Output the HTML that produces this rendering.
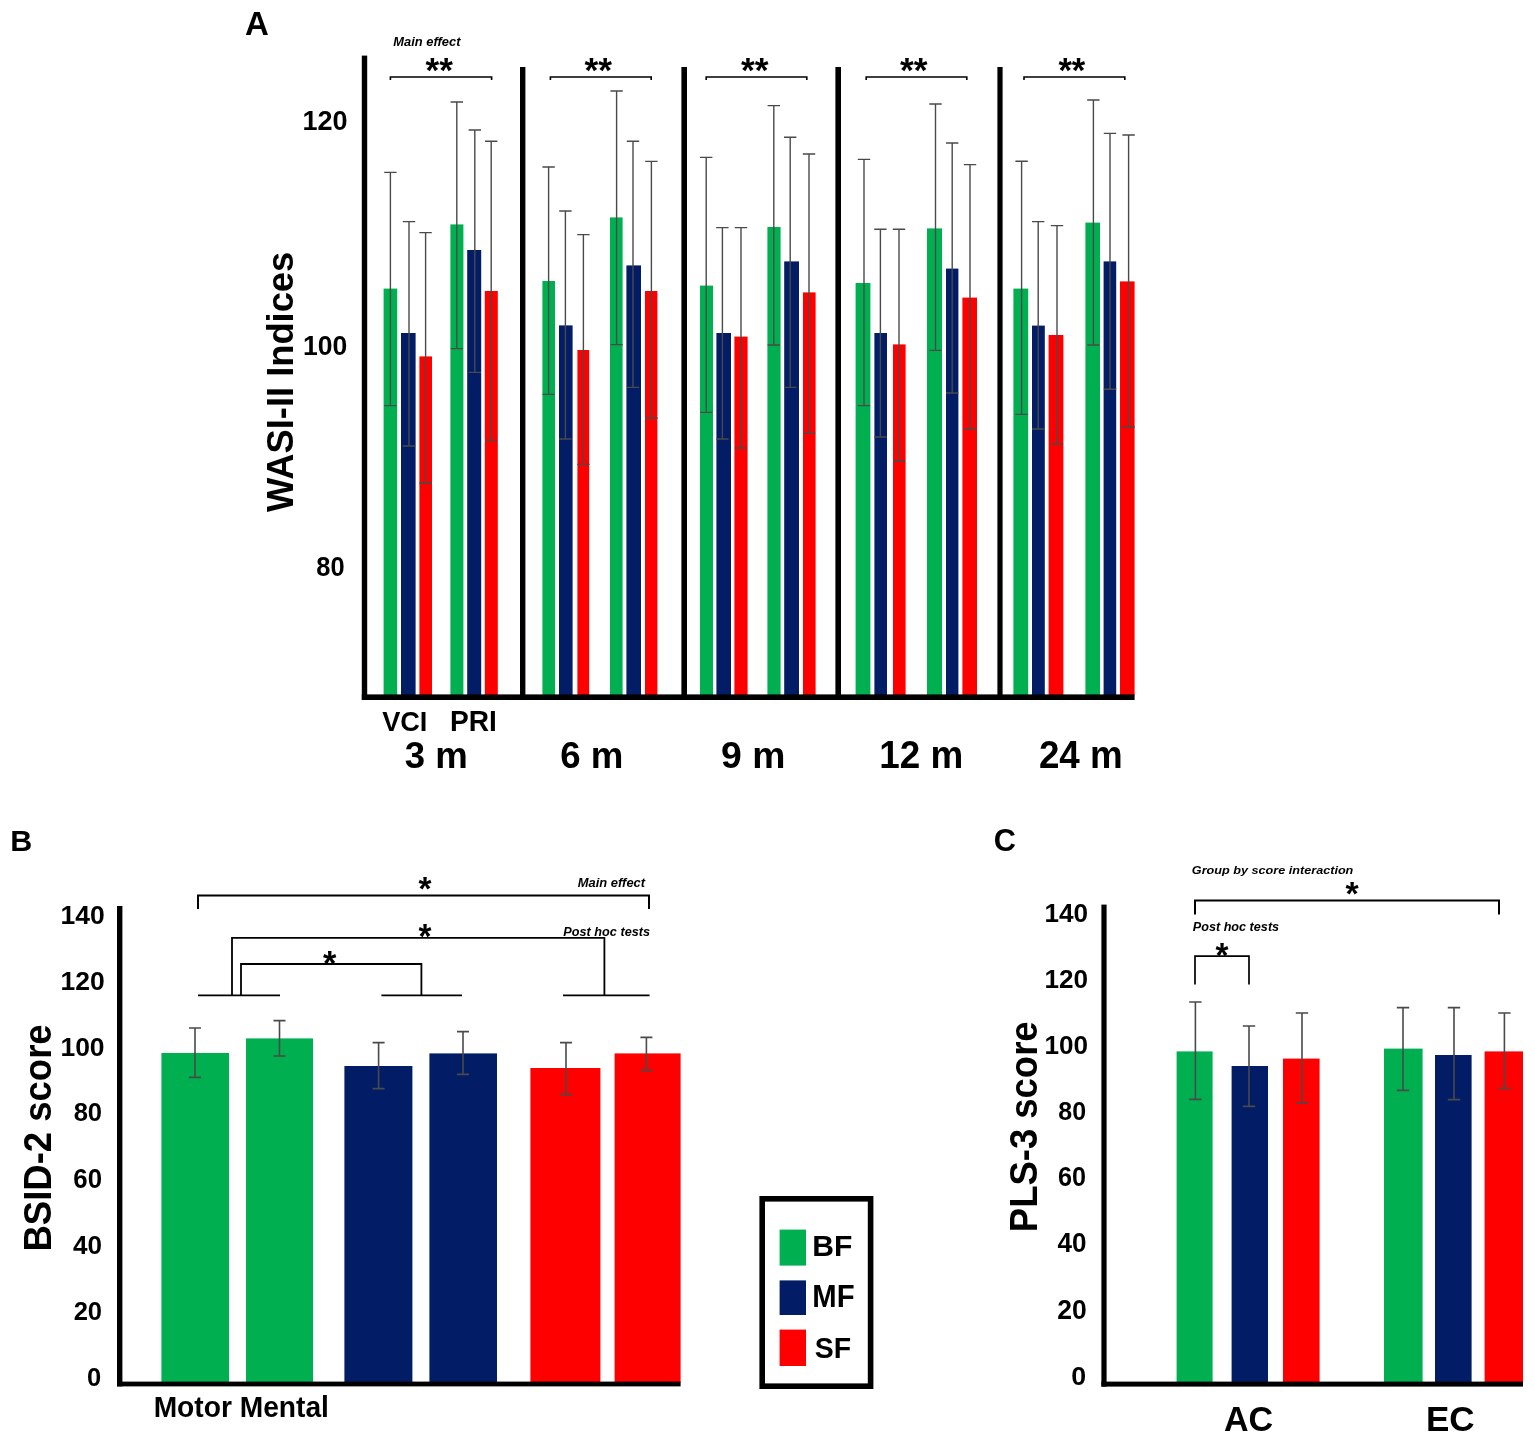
<!DOCTYPE html>
<html lang="en"><head><meta charset="utf-8"><title>Figure</title>
<style>
html,body{margin:0;padding:0;background:#fff;}
svg{display:block;}
text{font-family:"Liberation Sans",sans-serif;font-weight:bold;fill:#000;}
</style></head><body>
<svg width="1535" height="1442" viewBox="0 0 1535 1442" shape-rendering="auto">
<rect width="1535" height="1442" fill="#fff"/>
<rect x="383.6" y="288.6" width="13.6" height="406.8" fill="#00b050"/>
<rect x="401.0" y="333.0" width="14.6" height="362.4" fill="#021c66"/>
<rect x="419.4" y="356.4" width="12.6" height="339.0" fill="#ff0000"/>
<rect x="450.4" y="224.4" width="13.0" height="471.0" fill="#00b050"/>
<rect x="467.2" y="250.0" width="14.0" height="445.4" fill="#021c66"/>
<rect x="484.8" y="291.0" width="13.0" height="404.4" fill="#ff0000"/>
<rect x="542.4" y="281.0" width="12.6" height="414.4" fill="#00b050"/>
<rect x="559.0" y="325.4" width="13.6" height="370.0" fill="#021c66"/>
<rect x="577.4" y="350.0" width="11.8" height="345.4" fill="#ff0000"/>
<rect x="610.0" y="217.4" width="12.6" height="478.0" fill="#00b050"/>
<rect x="626.4" y="265.4" width="14.6" height="430.0" fill="#021c66"/>
<rect x="645.0" y="291.0" width="12.4" height="404.4" fill="#ff0000"/>
<rect x="700.0" y="285.6" width="13.0" height="409.8" fill="#00b050"/>
<rect x="716.4" y="333.0" width="14.6" height="362.4" fill="#021c66"/>
<rect x="734.4" y="336.6" width="13.2" height="358.8" fill="#ff0000"/>
<rect x="767.4" y="227.0" width="13.2" height="468.4" fill="#00b050"/>
<rect x="784.2" y="261.4" width="14.8" height="434.0" fill="#021c66"/>
<rect x="803.0" y="292.4" width="12.6" height="403.0" fill="#ff0000"/>
<rect x="855.6" y="283.0" width="14.8" height="412.4" fill="#00b050"/>
<rect x="874.4" y="333.0" width="12.6" height="362.4" fill="#021c66"/>
<rect x="893.0" y="344.4" width="12.6" height="351.0" fill="#ff0000"/>
<rect x="927.0" y="228.4" width="15.0" height="467.0" fill="#00b050"/>
<rect x="946.0" y="268.6" width="12.4" height="426.8" fill="#021c66"/>
<rect x="962.4" y="297.6" width="14.6" height="397.8" fill="#ff0000"/>
<rect x="1013.4" y="288.6" width="14.8" height="406.8" fill="#00b050"/>
<rect x="1032.0" y="325.6" width="12.8" height="369.8" fill="#021c66"/>
<rect x="1048.6" y="335.0" width="14.8" height="360.4" fill="#ff0000"/>
<rect x="1085.4" y="222.6" width="14.6" height="472.8" fill="#00b050"/>
<rect x="1103.6" y="261.4" width="12.6" height="434.0" fill="#021c66"/>
<rect x="1120.0" y="281.4" width="14.6" height="414.0" fill="#ff0000"/>
<path d="M384.2 172.4H396.6M390.4 172.4V405.6M384.2 405.6H396.6" fill="none" stroke="#4a4a4a" stroke-width="1.4" stroke-opacity="1"/>
<path d="M402.8 221.6H415.2M409.0 221.6V446.0M402.8 446.0H415.2" fill="none" stroke="#4a4a4a" stroke-width="1.4" stroke-opacity="1"/>
<path d="M419.4 232.6H431.8M425.6 232.6V483.0M419.4 483.0H431.8" fill="none" stroke="#4a4a4a" stroke-width="1.4" stroke-opacity="1"/>
<path d="M450.6 102.0H463.0M456.8 102.0V348.6M450.6 348.6H463.0" fill="none" stroke="#4a4a4a" stroke-width="1.4" stroke-opacity="1"/>
<path d="M468.6 130.0H481.0M474.8 130.0V372.4M468.6 372.4H481.0" fill="none" stroke="#4a4a4a" stroke-width="1.4" stroke-opacity="1"/>
<path d="M485.0 141.2H497.4M491.2 141.2V440.4M485.0 440.4H497.4" fill="none" stroke="#4a4a4a" stroke-width="1.4" stroke-opacity="1"/>
<path d="M542.4 167.0H554.8M548.6 167.0V394.4M542.4 394.4H554.8" fill="none" stroke="#4a4a4a" stroke-width="1.4" stroke-opacity="1"/>
<path d="M559.2 211.0H571.6M565.4 211.0V439.0M559.2 439.0H571.6" fill="none" stroke="#4a4a4a" stroke-width="1.4" stroke-opacity="1"/>
<path d="M577.2 234.6H589.6M583.4 234.6V464.4M577.2 464.4H589.6" fill="none" stroke="#4a4a4a" stroke-width="1.4" stroke-opacity="1"/>
<path d="M610.4 91.0H622.8M616.6 91.0V344.6M610.4 344.6H622.8" fill="none" stroke="#4a4a4a" stroke-width="1.4" stroke-opacity="1"/>
<path d="M626.8 141.2H639.2M633.0 141.2V387.4M626.8 387.4H639.2" fill="none" stroke="#4a4a4a" stroke-width="1.4" stroke-opacity="1"/>
<path d="M645.2 161.4H657.6M651.4 161.4V418.0M645.2 418.0H657.6" fill="none" stroke="#4a4a4a" stroke-width="1.4" stroke-opacity="1"/>
<path d="M700.0 157.4H712.4M706.2 157.4V412.4M700.0 412.4H712.4" fill="none" stroke="#4a4a4a" stroke-width="1.4" stroke-opacity="1"/>
<path d="M716.2 227.6H728.6M722.4 227.6V439.0M716.2 439.0H728.6" fill="none" stroke="#4a4a4a" stroke-width="1.4" stroke-opacity="1"/>
<path d="M734.8 227.6H747.2M741.0 227.6V448.0M734.8 448.0H747.2" fill="none" stroke="#4a4a4a" stroke-width="1.4" stroke-opacity="1"/>
<path d="M767.6 105.6H780.0M773.8 105.6V345.0M767.6 345.0H780.0" fill="none" stroke="#4a4a4a" stroke-width="1.4" stroke-opacity="1"/>
<path d="M784.0 137.2H796.4M790.2 137.2V387.4M784.0 387.4H796.4" fill="none" stroke="#4a4a4a" stroke-width="1.4" stroke-opacity="1"/>
<path d="M802.8 154.0H815.2M809.0 154.0V433.4M802.8 433.4H815.2" fill="none" stroke="#4a4a4a" stroke-width="1.4" stroke-opacity="1"/>
<path d="M857.8 159.4H870.2M864.0 159.4V405.6M857.8 405.6H870.2" fill="none" stroke="#4a4a4a" stroke-width="1.4" stroke-opacity="1"/>
<path d="M874.2 229.2H886.6M880.4 229.2V437.0M874.2 437.0H886.6" fill="none" stroke="#4a4a4a" stroke-width="1.4" stroke-opacity="1"/>
<path d="M892.8 229.2H905.2M899.0 229.2V461.0M892.8 461.0H905.2" fill="none" stroke="#4a4a4a" stroke-width="1.4" stroke-opacity="1"/>
<path d="M929.3 104.0H941.7M935.5 104.0V350.4M929.3 350.4H941.7" fill="none" stroke="#4a4a4a" stroke-width="1.4" stroke-opacity="1"/>
<path d="M946.0 143.0H958.4M952.2 143.0V393.0M946.0 393.0H958.4" fill="none" stroke="#4a4a4a" stroke-width="1.4" stroke-opacity="1"/>
<path d="M963.8 164.6H976.2M970.0 164.6V429.0M963.8 429.0H976.2" fill="none" stroke="#4a4a4a" stroke-width="1.4" stroke-opacity="1"/>
<path d="M1015.4 161.2H1027.8M1021.6 161.2V414.4M1015.4 414.4H1027.8" fill="none" stroke="#4a4a4a" stroke-width="1.4" stroke-opacity="1"/>
<path d="M1032.0 221.6H1044.4M1038.2 221.6V429.0M1032.0 429.0H1044.4" fill="none" stroke="#4a4a4a" stroke-width="1.4" stroke-opacity="1"/>
<path d="M1050.8 225.6H1063.2M1057.0 225.6V444.0M1050.8 444.0H1063.2" fill="none" stroke="#4a4a4a" stroke-width="1.4" stroke-opacity="1"/>
<path d="M1087.2 100.0H1099.6M1093.4 100.0V345.0M1087.2 345.0H1099.6" fill="none" stroke="#4a4a4a" stroke-width="1.4" stroke-opacity="1"/>
<path d="M1103.8 133.4H1116.2M1110.0 133.4V389.2M1103.8 389.2H1116.2" fill="none" stroke="#4a4a4a" stroke-width="1.4" stroke-opacity="1"/>
<path d="M1122.4 135.0H1134.8M1128.6 135.0V427.0M1122.4 427.0H1134.8" fill="none" stroke="#4a4a4a" stroke-width="1.4" stroke-opacity="1"/>
<rect x="361.8" y="55.6" width="5.4" height="644.4" fill="#000"/>
<rect x="520.0" y="67.0" width="5.4" height="633.0" fill="#000"/>
<rect x="681.4" y="67.0" width="5.6" height="633.0" fill="#000"/>
<rect x="835.4" y="67.0" width="5.6" height="633.0" fill="#000"/>
<rect x="997.4" y="67.0" width="5.2" height="633.0" fill="#000"/>
<rect x="361.8" y="694.4" width="772.8" height="5.6" fill="#000"/>
<path d="M390.4 80V77H491.6V80" fill="none" stroke="#000" stroke-width="1.6" stroke-linejoin="miter"/>
<path d="M550.4 80V77H651.2V80" fill="none" stroke="#000" stroke-width="1.6" stroke-linejoin="miter"/>
<path d="M706.2 80V77H806.8V80" fill="none" stroke="#000" stroke-width="1.6" stroke-linejoin="miter"/>
<path d="M866.2 80V77H966.8V80" fill="none" stroke="#000" stroke-width="1.6" stroke-linejoin="miter"/>
<path d="M1024.0 80V77H1124.8V80" fill="none" stroke="#000" stroke-width="1.6" stroke-linejoin="miter"/>
<rect x="161.4" y="1053.0" width="67.6" height="329.6" fill="#00b050"/>
<rect x="246.0" y="1038.4" width="67.0" height="344.2" fill="#00b050"/>
<rect x="344.4" y="1066.0" width="68.0" height="316.6" fill="#021c66"/>
<rect x="429.4" y="1053.4" width="67.6" height="329.2" fill="#021c66"/>
<rect x="530.4" y="1068.0" width="70.0" height="314.6" fill="#ff0000"/>
<rect x="614.6" y="1053.4" width="66.0" height="329.2" fill="#ff0000"/>
<path d="M189.0 1028.0H201.0M195.0 1028.0V1077.4M189.0 1077.4H201.0" fill="none" stroke="#4a4a4a" stroke-width="1.6" stroke-opacity="1"/>
<path d="M273.5 1020.6H285.5M279.5 1020.6V1056.0M273.5 1056.0H285.5" fill="none" stroke="#4a4a4a" stroke-width="1.6" stroke-opacity="1"/>
<path d="M372.6 1042.6H384.6M378.6 1042.6V1088.6M372.6 1088.6H384.6" fill="none" stroke="#4a4a4a" stroke-width="1.6" stroke-opacity="1"/>
<path d="M457.0 1031.6H469.0M463.0 1031.6V1074.4M457.0 1074.4H469.0" fill="none" stroke="#4a4a4a" stroke-width="1.6" stroke-opacity="1"/>
<path d="M560.0 1042.6H572.0M566.0 1042.6V1094.4M560.0 1094.4H572.0" fill="none" stroke="#4a4a4a" stroke-width="1.6" stroke-opacity="1"/>
<path d="M640.4 1037.4H652.4M646.4 1037.4V1070.4M640.4 1070.4H652.4" fill="none" stroke="#4a4a4a" stroke-width="1.6" stroke-opacity="1"/>
<rect x="117.0" y="906.0" width="5.4" height="480.4" fill="#000"/>
<rect x="117.0" y="1381.6" width="563.6" height="4.8" fill="#000"/>
<path d="M198 909V895.5H649V909" fill="none" stroke="#000" stroke-width="2" stroke-linejoin="miter"/>
<path d="M232 995.4V937.8H604.4V995.4" fill="none" stroke="#000" stroke-width="1.8" stroke-linejoin="miter"/>
<path d="M241 995.4V964H421.4V995.4" fill="none" stroke="#000" stroke-width="1.8" stroke-linejoin="miter"/>
<line x1="198.0" y1="995.4" x2="280.0" y2="995.4" stroke="#000" stroke-width="1.6"/>
<line x1="381.4" y1="995.4" x2="462.0" y2="995.4" stroke="#000" stroke-width="1.6"/>
<line x1="563.0" y1="995.4" x2="649.6" y2="995.4" stroke="#000" stroke-width="1.6"/>
<rect x="762.2" y="1198.8" width="108.4" height="187.4" fill="#fff" stroke="#000" stroke-width="5.6"/>
<rect x="779.6" y="1229.6" width="26.4" height="36.0" fill="#00b050"/>
<rect x="779.6" y="1280.4" width="26.4" height="34.6" fill="#021c66"/>
<rect x="779.6" y="1329.6" width="26.4" height="36.4" fill="#ff0000"/>
<rect x="1176.6" y="1051.4" width="36.0" height="331.2" fill="#00b050"/>
<rect x="1231.6" y="1066.0" width="36.4" height="316.6" fill="#021c66"/>
<rect x="1283.0" y="1058.6" width="36.6" height="324.0" fill="#ff0000"/>
<rect x="1384.0" y="1048.6" width="38.6" height="334.0" fill="#00b050"/>
<rect x="1435.0" y="1055.0" width="36.6" height="327.6" fill="#021c66"/>
<rect x="1484.6" y="1051.4" width="38.4" height="331.2" fill="#ff0000"/>
<path d="M1189.2 1002.0H1201.6M1195.4 1002.0V1099.4M1189.2 1099.4H1201.6" fill="none" stroke="#4a4a4a" stroke-width="1.6" stroke-opacity="1"/>
<path d="M1242.8 1026.0H1255.2M1249.0 1026.0V1106.4M1242.8 1106.4H1255.2" fill="none" stroke="#4a4a4a" stroke-width="1.6" stroke-opacity="1"/>
<path d="M1295.8 1013.0H1308.2M1302.0 1013.0V1103.0M1295.8 1103.0H1308.2" fill="none" stroke="#4a4a4a" stroke-width="1.6" stroke-opacity="1"/>
<path d="M1396.8 1007.6H1409.2M1403.0 1007.6V1090.4M1396.8 1090.4H1409.2" fill="none" stroke="#4a4a4a" stroke-width="1.6" stroke-opacity="1"/>
<path d="M1447.8 1007.6H1460.2M1454.0 1007.6V1099.6M1447.8 1099.6H1460.2" fill="none" stroke="#4a4a4a" stroke-width="1.6" stroke-opacity="1"/>
<path d="M1498.2 1013.0H1510.6M1504.4 1013.0V1088.4M1498.2 1088.4H1510.6" fill="none" stroke="#4a4a4a" stroke-width="1.6" stroke-opacity="1"/>
<rect x="1101.4" y="904.6" width="5.2" height="482.0" fill="#000"/>
<rect x="1101.4" y="1381.6" width="421.6" height="5.0" fill="#000"/>
<path d="M1195 914.4V900.6H1499V914.4" fill="none" stroke="#000" stroke-width="2" stroke-linejoin="miter"/>
<path d="M1195 984.4V956.2H1249V984.4" fill="none" stroke="#000" stroke-width="1.7" stroke-linejoin="miter"/>
<text transform="translate(425.60 82.24) scale(0.9998 1)" font-size="35.14">**</text>
<text transform="translate(584.40 82.24) scale(1.0071 1)" font-size="35.14">**</text>
<text transform="translate(741.00 82.24) scale(1.0071 1)" font-size="35.14">**</text>
<text transform="translate(900.00 82.24) scale(1.0071 1)" font-size="35.14">**</text>
<text transform="translate(1058.40 82.24) scale(0.9852 1)" font-size="35.14">**</text>
<text transform="translate(245.01 35.32) scale(1.0209 1)" font-size="32.35">A</text>
<text transform="translate(393.34 46.40) scale(1.0124 1)" font-size="12.75" font-style="italic">Main effect</text>
<text transform="translate(302.38 130.22) scale(0.9610 1)" font-size="28.17">120</text>
<text transform="translate(302.91 355.23) scale(0.9925 1)" font-size="26.76">100</text>
<text transform="translate(316.24 576.23) scale(0.9278 1)" font-size="27.46">80</text>
<text transform="translate(293.23 512.00) rotate(-90) scale(0.9739 1)" font-size="37.30">WASI-II Indices</text>
<text transform="translate(382.13 731.12) scale(0.9645 1)" font-size="28.17">VCI</text>
<text transform="translate(450.03 731.40) scale(0.9696 1)" font-size="28.99">PRI</text>
<text transform="translate(404.87 767.63) scale(0.9765 1)" font-size="37.46">3 m</text>
<text transform="translate(560.13 767.63) scale(0.9787 1)" font-size="37.46">6 m</text>
<text transform="translate(721.11 767.63) scale(0.9952 1)" font-size="37.46">9 m</text>
<text transform="translate(879.19 768.00) scale(0.9698 1)" font-size="38.00">12 m</text>
<text transform="translate(1038.90 768.00) scale(0.9685 1)" font-size="38.00">24 m</text>
<text transform="translate(418.60 899.98) scale(1.0278 1)" font-size="32.43">*</text>
<text transform="translate(418.60 947.64) scale(0.9487 1)" font-size="35.14">*</text>
<text transform="translate(323.00 974.84) scale(0.9779 1)" font-size="35.14">*</text>
<text transform="translate(577.74 887.40) scale(0.9928 1)" font-size="13.04" font-style="italic">Main effect</text>
<text transform="translate(563.35 935.60) scale(0.9618 1)" font-size="13.19" font-style="italic">Post hoc tests</text>
<text transform="translate(60.41 923.74) scale(1.0224 1)" font-size="25.92">140</text>
<text transform="translate(60.41 989.54) scale(1.0224 1)" font-size="25.92">120</text>
<text transform="translate(60.41 1056.34) scale(1.0114 1)" font-size="26.20">100</text>
<text transform="translate(73.63 1121.34) scale(0.9763 1)" font-size="26.20">80</text>
<text transform="translate(73.37 1187.73) scale(0.9650 1)" font-size="26.76">60</text>
<text transform="translate(73.08 1253.74) scale(0.9961 1)" font-size="26.20">40</text>
<text transform="translate(73.63 1320.34) scale(0.9763 1)" font-size="26.20">20</text>
<text transform="translate(86.98 1386.14) scale(0.9852 1)" font-size="25.92">0</text>
<text transform="translate(51.21 1251.56) rotate(-90) scale(0.9256 1)" font-size="39.44">BSID-2 score</text>
<text transform="translate(153.63 1417.00) scale(0.9726 1)" font-size="28.99">Motor Mental</text>
<text transform="translate(10.27 851.00) scale(1.0019 1)" font-size="30.43">B</text>
<text transform="translate(812.29 1256.00) scale(1.0175 1)" font-size="29.57">BF</text>
<text transform="translate(812.35 1307.00) scale(0.9612 1)" font-size="30.43">MF</text>
<text transform="translate(814.75 1357.70) scale(0.9345 1)" font-size="30.42">SF</text>
<text transform="translate(1345.60 905.35) scale(1.0265 1)" font-size="32.97">*</text>
<text transform="translate(1215.40 966.84) scale(0.9487 1)" font-size="35.14">*</text>
<text transform="translate(1191.87 874.29) scale(1.1086 1)" font-size="11.41" font-style="italic">Group by score interaction</text>
<text transform="translate(1192.75 931.00) scale(1.0273 1)" font-size="12.32" font-style="italic">Post hoc tests</text>
<text transform="translate(1044.43 921.74) scale(1.0077 1)" font-size="25.92">140</text>
<text transform="translate(1044.43 988.14) scale(1.0077 1)" font-size="25.92">120</text>
<text transform="translate(1044.43 1053.74) scale(1.0077 1)" font-size="25.92">100</text>
<text transform="translate(1058.25 1120.14) scale(0.9647 1)" font-size="25.92">80</text>
<text transform="translate(1057.99 1185.73) scale(0.9433 1)" font-size="26.76">60</text>
<text transform="translate(1057.48 1252.13) scale(0.9751 1)" font-size="26.76">40</text>
<text transform="translate(1057.20 1318.73) scale(0.9917 1)" font-size="26.76">20</text>
<text transform="translate(1071.33 1385.14) scale(1.0345 1)" font-size="25.92">0</text>
<text transform="translate(1037.01 1232.15) rotate(-90) scale(0.9453 1)" font-size="38.59">PLS-3 score</text>
<text transform="translate(1223.98 1431.25) scale(0.9596 1)" font-size="35.49">AC</text>
<text transform="translate(1425.95 1431.25) scale(0.9872 1)" font-size="35.49">EC</text>
<text transform="translate(993.77 851.29) scale(0.9930 1)" font-size="30.99">C</text>
</svg>
</body></html>
